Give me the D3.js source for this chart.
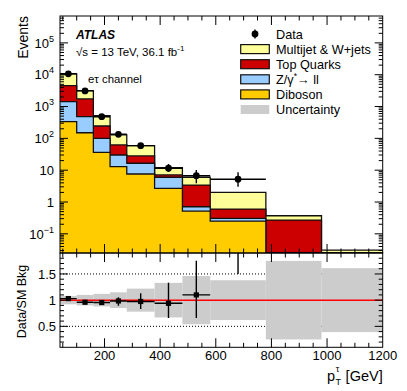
<!DOCTYPE html>
<html><head><meta charset="utf-8">
<script src="https://cdn.jsdelivr.net/npm/d3@7"></script>
<style>body{margin:0;background:#fff}svg{display:block}text{font-family:"Liberation Sans",Arial,Helvetica,sans-serif;fill:#000}</style>
</head><body><svg id="c" width="407" height="391"></svg>
<script>
// ---------- data ----------
const binEdges = [40, 100, 160, 220, 280, 380, 480, 580, 780, 980, 1200];
const diboson  = [335, 150, 36.5, 12.9, 7.6, 2.7, 0.52, 0.25, 0.002, 0.0001];
const zll      = [1090, 330, 63.5, 17.1, 8.9, 3.3, 0.19, 0.057, 0.001, 0.0001];
const topQuarks= [3115, 1260, 145, 32, 11.5, 1.1, 2.7, 0.293, 0.267, 0.0008];
const multijet = [6060, 1420, 270, 66, 31, 4.9, 2.6, 1.4, 0.1, 0.030];
const dataVals  = [10700, 3100, 480, 134, 59, 11.5, 6.7, 5.2];
const dataErrHi = [104, 56, 22, 12, 8, 4.1, 3.4, 3.4];
const dataErrLo = [104, 56, 22, 12, 8, 2.8, 2.8, 2.2];
const ratioVals  = [1.03, 0.96, 0.955, 0.985, 0.975, 0.94, 1.10, 2.6];
const ratioErrHi = [0.015, 0.02, 0.03, 0.07, 0.155, 0.39, 0.65, 1.3];
const ratioErrLo = [0.015, 0.02, 0.03, 0.09, 0.145, 0.28, 0.44, 1.1];
const uncRel     = [0.08, 0.10, 0.12, 0.15, 0.22, 0.33, 0.46, 0.38, 0.75, 0.61];
const xTickVals  = [200, 400, 600, 800, 1000, 1200];
const ratioTickVals = [0.5, 1, 1.5];
const logTickExps = [-1, 0, 1, 2, 3, 4, 5];
const legendNames = ["Data", "Multijet & W+jets", "Top Quarks", "Z/γ*→ ll", "Diboson", "Uncertainty"];
const colors = {mj: "#ffff99", top: "#cc0000", z: "#99ccff", dib: "#ffcc00", unc: "#cccccc"};

// ---------- geometry ----------
const L = 60, R = 382.7, T1 = 16, B1 = 253, B2 = 347.3;
const svg = d3.select("#c");
const x = d3.scaleLinear().domain([40, 1200]).range([L, R]);
const y = d3.scaleLog().domain([0.025, 7e5]).range([B1, T1]).clamp(true);
const yr = d3.scaleLinear().domain([0.1, 1.9]).range([B2, B1]);

const defs = svg.append("defs");
defs.append("clipPath").attr("id", "cTop").append("rect").attr("x", L).attr("y", T1).attr("width", R - L).attr("height", B1 - T1);
defs.append("clipPath").attr("id", "cBot").append("rect").attr("x", L).attr("y", B1).attr("width", R - L).attr("height", B2 - B1);

// ---------- stack ----------
const nb = binEdges.length - 1;
const cum1 = diboson.slice();
const cum2 = cum1.map((v, i) => v + zll[i]);
const cum3 = cum2.map((v, i) => v + topQuarks[i]);
const cum4 = cum3.map((v, i) => v + multijet[i]);
function stepPts(vals) {
  const p = vals.map((v, i) => [binEdges[i], v]);
  p.push([binEdges[nb], vals[nb - 1]]);
  return p;
}
const gTop = svg.append("g").attr("clip-path", "url(#cTop)");
const area = d3.area().x(d => x(d[0])).y0(B1).y1(d => y(d[1])).curve(d3.curveStepAfter);
const line = d3.line().x(d => x(d[0])).y(d => y(d[1])).curve(d3.curveStepAfter);
[[cum4, colors.mj], [cum3, colors.top], [cum2, colors.z], [cum1, colors.dib]].forEach(([vals, col]) => {
  const pts = stepPts(vals);
  gTop.append("path").attr("d", area(pts)).attr("fill", col);
  gTop.append("path").attr("d", line(pts)).attr("fill", "none").attr("stroke", "#111").attr("stroke-width", 1.3);
});

// data points
const gData = gTop.append("g");
dataVals.forEach((v, i) => {
  const xc = x((binEdges[i] + binEdges[i + 1]) / 2);
  gData.append("line").attr("x1", x(binEdges[i])).attr("x2", x(binEdges[i + 1])).attr("y1", y(v)).attr("y2", y(v)).attr("stroke", "#000").attr("stroke-width", 1.4);
  gData.append("line").attr("x1", xc).attr("x2", xc).attr("y1", y(v + dataErrHi[i])).attr("y2", y(v - dataErrLo[i])).attr("stroke", "#000").attr("stroke-width", 1.4);
  gData.append("circle").attr("cx", xc).attr("cy", y(v)).attr("r", 3.4).attr("fill", "#000");
});

// ---------- ratio panel ----------
const gBot = svg.append("g").attr("clip-path", "url(#cBot)");
ratioTickVals.forEach(v => {
  gBot.append("line").attr("x1", L).attr("x2", R).attr("y1", yr(v)).attr("y2", yr(v)).attr("stroke", "#000").attr("stroke-width", 1).attr("stroke-dasharray", "1,2");
});
uncRel.forEach((u, i) => {
  gBot.append("rect").attr("x", x(binEdges[i])).attr("width", x(binEdges[i + 1]) - x(binEdges[i]))
    .attr("y", yr(1 + u)).attr("height", yr(1 - u) - yr(1 + u)).attr("fill", colors.unc);
});
gBot.append("line").attr("x1", L).attr("x2", R).attr("y1", yr(1)).attr("y2", yr(1)).attr("stroke", "#ff0000").attr("stroke-width", 1.5);
ratioVals.forEach((v, i) => {
  const xc = x((binEdges[i] + binEdges[i + 1]) / 2);
  gBot.append("line").attr("x1", x(binEdges[i])).attr("x2", x(binEdges[i + 1])).attr("y1", yr(v)).attr("y2", yr(v)).attr("stroke", "#000").attr("stroke-width", 1.4);
  gBot.append("line").attr("x1", xc).attr("x2", xc).attr("y1", yr(v + ratioErrHi[i])).attr("y2", yr(v - ratioErrLo[i])).attr("stroke", "#000").attr("stroke-width", 1.4);
  gBot.append("rect").attr("x", xc - 2.6).attr("y", yr(v) - 2.6).attr("width", 5.2).attr("height", 5.2).attr("fill", "#000");
});

// ---------- frames and ticks ----------
const gAx = svg.append("g").attr("stroke", "#000").attr("stroke-width", 1).attr("fill", "none");
gAx.append("rect").attr("x", L).attr("y", T1).attr("width", R - L).attr("height", B1 - T1);
gAx.append("rect").attr("x", L).attr("y", B1).attr("width", R - L).attr("height", B2 - B1);
function tick(x1, y1, x2, y2) { gAx.append("line").attr("x1", x1).attr("y1", y1).attr("x2", x2).attr("y2", y2); }
const xMinor = d3.range(50, 1200, 50).filter(v => v > 40 && v % 200 !== 0);
[[T1, B1, 9, 4.5], [B1, B2, 9, 4.5]].forEach(([top, bot, maj, mn]) => {
  xTickVals.filter(v => v < 1200).forEach(v => { tick(x(v), bot, x(v), bot - maj); tick(x(v), top, x(v), top + maj); });
  xMinor.forEach(v => { tick(x(v), bot, x(v), bot - mn); tick(x(v), top, x(v), top + mn); });
});
logTickExps.forEach(e => { const p = y(Math.pow(10, e)); tick(L, p, L + 8, p); tick(R, p, R - 8, p); });
d3.range(-2, 6).forEach(e => d3.range(2, 10).forEach(k => {
  const v = k * Math.pow(10, e);
  if (v > 0.025 && v < 7e5) { const p = y(v); tick(L, p, L + 4, p); tick(R, p, R - 4, p); }
}));
ratioTickVals.forEach(v => { tick(L, yr(v), L + 8, yr(v)); tick(R, yr(v), R - 8, yr(v)); });
d3.range(2, 19).map(k => k / 10).filter(v => Math.abs(v * 2 - Math.round(v * 2)) > 1e-6).forEach(v => {
  tick(L, yr(v), L + 4, yr(v)); tick(R, yr(v), R - 4, yr(v));
});

// ---------- labels ----------
const fs = 13;
logTickExps.forEach(e => {
  const p = y(Math.pow(10, e));
  const t = svg.append("text").attr("x", 54).attr("y", p + 4.7).attr("text-anchor", "end").attr("font-size", fs);
  if (e === 0) t.text("1");
  else if (e === 1) t.text("10");
  else {
    t.append("tspan").text("10");
    t.append("tspan").attr("dy", -6).attr("font-size", 9).text(e < 0 ? "−" + (-e) : String(e));
  }
});
ratioTickVals.forEach(v => {
  svg.append("text").attr("x", 56).attr("y", yr(v) + 4.7).attr("text-anchor", "end").attr("font-size", fs).text(String(v));
});
xTickVals.forEach(v => {
  svg.append("text").attr("x", x(v)).attr("y", 360).attr("text-anchor", "middle").attr("font-size", fs).text(String(v));
});
svg.append("text").attr("transform", "translate(28,16) rotate(-90)").attr("text-anchor", "end").attr("font-size", 14).text("Events");
svg.append("text").attr("transform", "translate(25.5,301.5) rotate(-90)").attr("text-anchor", "middle").attr("font-size", 12.5).text("Data/SM Bkg");
// x title: "p" with subscript T and superscript tau, then [GeV]
svg.append("text").attr("x", R).attr("y", 380.5).attr("text-anchor", "end").attr("font-size", 14.5).text("[GeV]");
svg.append("text").attr("x", 327).attr("y", 380.5).attr("text-anchor", "start").attr("font-size", 14.5).text("p");
svg.append("text").attr("x", 335.5).attr("y", 385).attr("text-anchor", "start").attr("font-size", 9).text("T");
svg.append("text").attr("x", 335.8).attr("y", 372).attr("text-anchor", "start").attr("font-size", 9).text("τ");

svg.append("text").attr("x", 76).attr("y", 39).attr("font-size", 12).attr("font-weight", "bold").attr("font-style", "italic").text("ATLAS");
const en = svg.append("text").attr("x", 76).attr("y", 55.5).attr("font-size", 11.5);
en.append("tspan").text("√s = 13 TeV, 36.1 fb");
en.append("tspan").attr("dy", -5).attr("font-size", 8).text("-1");
svg.append("text").attr("x", 88).attr("y", 82.7).attr("font-size", 11.4).text("eτ channel");

// ---------- legend ----------
const lg = svg.append("g");
const boxX = 240.7, boxW = 28.6, boxH = 9, textX = 276, row0 = 34, dRow = 15.1;
const legFills = [null, colors.mj, colors.top, colors.z, colors.dib, colors.unc];
legendNames.forEach((name, i) => {
  const cy = row0 + i * dRow;
  if (i === 0) {
    lg.append("line").attr("x1", boxX + boxW / 2).attr("x2", boxX + boxW / 2).attr("y1", cy - 4.5).attr("y2", cy + 4.5).attr("stroke", "#000").attr("stroke-width", 1.4);
    lg.append("circle").attr("cx", boxX + boxW / 2).attr("cy", cy).attr("r", 3.4).attr("fill", "#000");
  } else {
    lg.append("rect").attr("x", boxX).attr("y", cy - boxH / 2).attr("width", boxW).attr("height", boxH)
      .attr("fill", legFills[i]).attr("stroke", i === 5 ? "none" : "#111").attr("stroke-width", 1.2);
  }
  const t = lg.append("text").attr("x", textX).attr("y", cy + 4.6).attr("font-size", 12.7);
  if (name.indexOf("*") >= 0) {
    const parts = name.split("*");
    t.append("tspan").text(parts[0]);
    t.append("tspan").attr("dy", -5).attr("font-size", 8.5).text("*");
    t.append("tspan").attr("dy", 5).text(parts[1]);
  } else t.text(name);
});
</script></body></html>
